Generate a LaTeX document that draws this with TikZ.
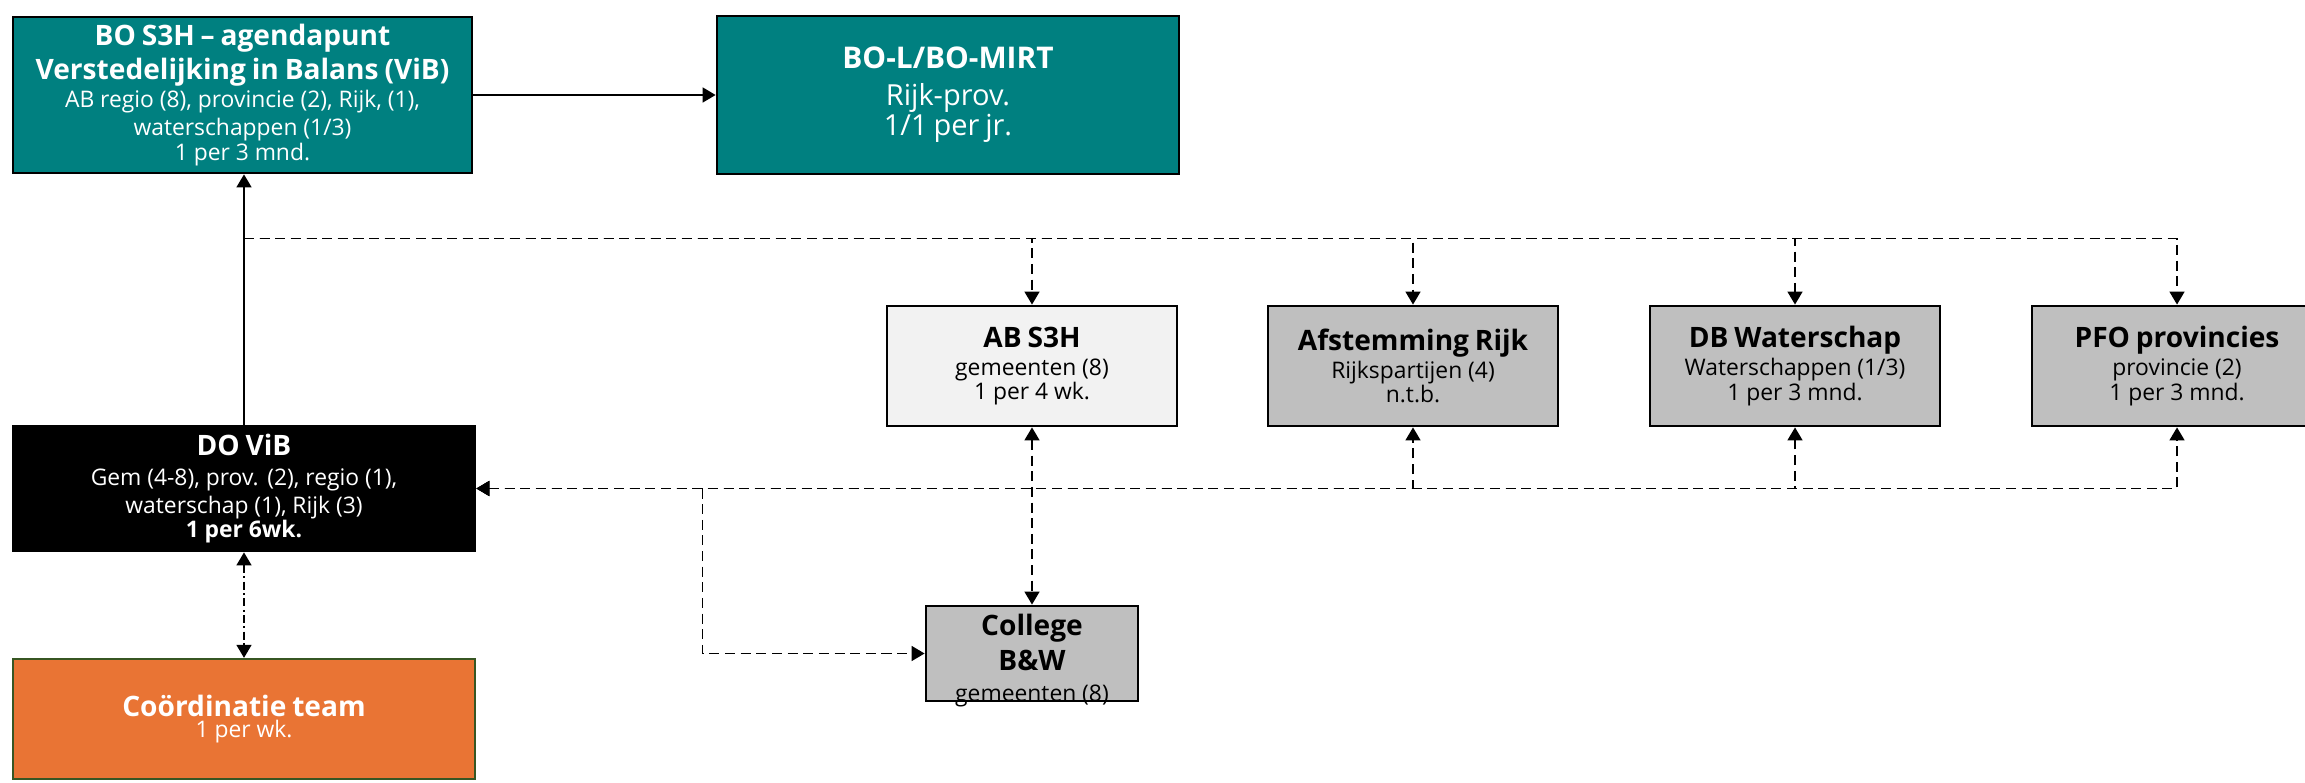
\documentclass[tikz,border=0pt]{standalone}
\usepackage{fontspec}
\setmainfont{Open Sans}
\usepackage{tikz}
\usetikzlibrary{arrows.meta,calc,positioning}

\definecolor{s3hteal}{RGB}{0,128,128}
\definecolor{cbgrey}{RGB}{191,191,191}
\definecolor{abgrey}{RGB}{242,242,242}
\definecolor{coordorange}{RGB}{233,116,52}
\definecolor{coordgreen}{RGB}{55,86,35}

\newcommand{\kopfont}{\fontsize{16pt}{19pt}\selectfont\bfseries}
\newcommand{\tekstfont}{\fontsize{13pt}{16pt}\selectfont\mdseries}

\begin{document}
\begin{tikzpicture}[
        >={Triangle[length=7.4pt,width=8.5pt]},
        box/.style={draw=black, line width=1.6pt, inner sep=0pt, align=center},
        tealbox/.style={box, fill=s3hteal, text=white},
        greybox/.style={box, fill=cbgrey, minimum width=5.8cm, minimum height=2.4cm, text width=5.6cm},
        blackbox/.style={box, fill=black, text=white},
        orangebox/.style={box, draw=coordgreen, line width=1.3pt, fill=coordorange, text=white},
        link/.style={line width=1.1pt, ->},
        dashlink/.style={link, line width=1pt, dash pattern=on 5.7pt off 3.2pt},
        dashdotlink/.style={link, line width=1pt, dash pattern=on 4.5pt off 2pt on 1pt off 2pt}
    ]
    \useasboundingbox (0,0) rectangle (46.1,15.64);

    % boxes left
    \node[tealbox, minimum width=9.18cm, minimum height=3.12cm, text width=9cm] (bos3h) at (4.85,13.74)
        {\kopfont BO S3H – agendapunt\\ \kopfont Verstedelijking in Balans (ViB)\\
         \tekstfont AB regio (8), provincie (2), Rijk, (1),\\ waterschappen (1/3)\\ 1 per 3 mnd.};
    \node[tealbox, minimum width=9.24cm, minimum height=3.16cm, text width=9cm] (bol) at (18.96,13.74)
        {\fontsize{17pt}{20pt}\selectfont\bfseries BO-L/BO-MIRT\\[3pt]
         \fontsize{16.5pt}{18pt}\selectfont\mdseries Rijk-prov.\\ 1/1 per jr.};
    \node[blackbox, minimum width=9.24cm, minimum height=2.5cm, text width=9cm] (dovib) at (4.88,5.87)
        {\kopfont DO ViB\\[1pt] \tekstfont Gem (4-8), prov. (2), regio (1),\\ waterschap (1), Rijk (3)\\
         \tekstfont\bfseries 1 per 6wk.};
    \node[orangebox, minimum width=9.24cm, minimum height=2.4cm, text width=9cm] (coord) at (4.88,1.26)
        {\kopfont Coördinatie team\\ \tekstfont 1 per wk.};

    % boxes right
    \node[greybox, fill=abgrey] (abs3h) at (20.64,8.32)
        {\kopfont AB S3H\\ \tekstfont gemeenten (8)\\ 1 per 4 wk.};
    \node[greybox] (afst) at (28.26,8.32)
        {\kopfont Afstemming Rijk\\ \tekstfont Rijkspartijen (4)\\ n.t.b.};
    \node[greybox] (db) at (35.9,8.32)
        {\kopfont DB Waterschap\\ \tekstfont Waterschappen (1/3)\\ 1 per 3 mnd.};
    \node[greybox] (pfo) at (43.54,8.32)
        {\kopfont PFO provincies\\ \tekstfont provincie (2)\\ 1 per 3 mnd.};
    \node[greybox, minimum width=4.24cm, minimum height=1.9cm, text width=4cm] (college) at (20.64,2.57) {};
    \node[align=center, inner sep=0pt, text width=4cm] (collegetext) at ([yshift=-0.14cm]college.center)
        {\kopfont College\\[1pt] \kopfont B\&W\\[6pt] \tekstfont gemeenten (8)};

    % split points
    \coordinate (topsplit) at ($(dovib.north)+(0,3.72)$);
    \coordinate (cbranch) at ([xshift=4.52cm]dovib.east);

    % connectors
    \draw[link] (bos3h) -- (bol);
    \draw[link] (dovib.north) -- (dovib.north |- bos3h.south);
    \foreach \target in {abs3h,afst,db,pfo}
        \draw[dashlink] (topsplit) -| (\target.north);
    \foreach \target in {afst,db,pfo}
        \draw[dashlink,<->] (dovib.east) -| (\target.south);
    \draw[dashlink,<->] (abs3h.south) -- (college.north);
    \draw[dashlink] (cbranch) |- (college.west);
    \draw[dashdotlink,<->] (dovib.south) -- (coord.north);
\end{tikzpicture}
\end{document}
